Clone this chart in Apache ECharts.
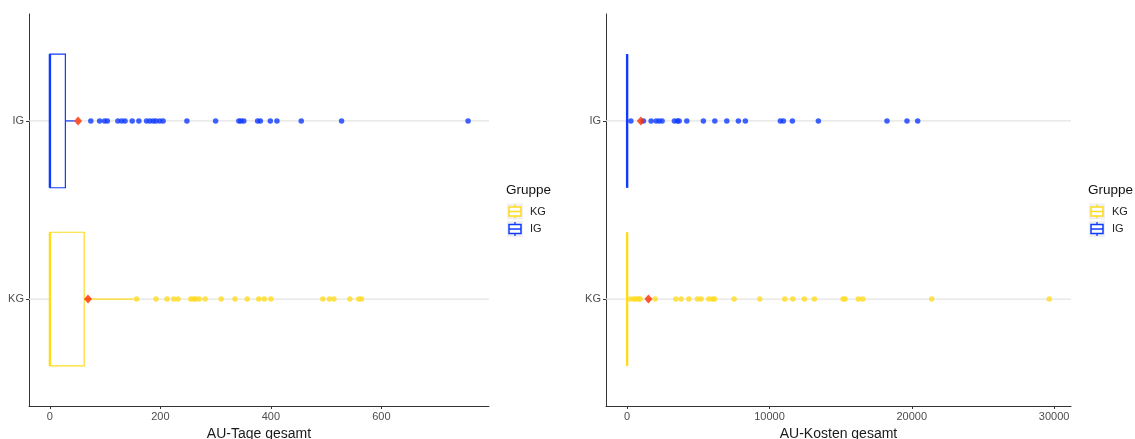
<!DOCTYPE html>
<html>
<head>
<meta charset="utf-8">
<script src="https://cdn.jsdelivr.net/npm/echarts@6/dist/echarts.min.js"></script>
<style>
  html, body { margin: 0; padding: 0; background: #fff; }
  #chart { width: 1135px; height: 439px; }
</style>
</head>
<body>
<div id="chart"></div>
<script>
// groups on the y axis: KG = 1 (bottom), IG = 2 (top)
const groups = ['KG', 'IG'];

// AU-Tage gesamt (visible points only, the rest sits under the box)
const tageIG = [74, 90, 99, 104, 123, 130, 136, 149, 161, 175, 181, 187, 192, 199, 205,
  248, 300, 342, 346, 351, 376, 381, 399, 411, 455, 528, 757];
const tageKG = [157, 192, 212, 224, 232, 255, 260, 264, 270, 281, 310, 335, 357, 378, 388,
  400, 494, 506, 514, 543, 559, 564];
// box: q1, median, q3, lower whisker, upper whisker
const tageBoxIG = [0, 0, 28, 0, 45];
const tageBoxKG = [0, 0, 62, 0, 150];
const tageMean = { IG: 51, KG: 69 };

// AU-Kosten gesamt
const kostenIG = [260, 1145, 1685, 2037, 2247, 2458, 3322, 3532, 3652, 4192, 5358, 6159,
  7001, 7816, 8308, 10766, 10976, 11608, 13434, 18258, 19663, 20413];
const kostenKG = [211, 442, 611, 794, 913, 1966, 3420, 3792, 4333, 4937, 5197, 5737, 5990,
  6131, 7514, 9319, 11075, 11636, 12451, 13153, 15169, 15309, 16243, 16552, 21397, 29656];
const kostenBoxIG = [0, 0, 0, 0, 0];
const kostenBoxKG = [0, 0, 0, 0, 0];
const kostenMean = { IG: 960, KG: 1496 };

// x axis ticks
const tageTicks = [0, 200, 400, 600];
const kostenTicks = [0, 10000, 20000, 30000];

const YELLOW = '#FFDB1F';
const BLUE = '#0F3BFF';
const RED = '#FF2A00';
const FONT = 'Liberation Sans';

function renderBox(params, api) {
  const y = api.value(5);
  const q1 = api.coord([api.value(0), y]);
  const med = api.coord([api.value(1), y]);
  const q3 = api.coord([api.value(2), y]);
  const lo = api.coord([api.value(3), y]);
  const hi = api.coord([api.value(4), y]);
  const h = api.size([0, 0.75])[1];
  const color = api.visual('color');
  return {
    type: 'group',
    children: [
      { type: 'line', shape: { x1: lo[0], y1: q1[1], x2: q1[0], y2: q1[1] },
        style: { stroke: color, lineWidth: 1.2 } },
      { type: 'line', shape: { x1: q3[0], y1: q1[1], x2: hi[0], y2: q1[1] },
        style: { stroke: color, lineWidth: 1.2 } },
      { type: 'rect', shape: { x: q1[0], y: q1[1] - h / 2, width: q3[0] - q1[0], height: h },
        style: { fill: '#fff', stroke: color, lineWidth: 1.2 } },
      { type: 'line', shape: { x1: med[0], y1: q1[1] - h / 2, x2: med[0], y2: q1[1] + h / 2 },
        style: { stroke: color, lineWidth: 2.4 } }
    ]
  };
}

function renderGuide(params, api) {
  const p = api.coord([0, api.value(1)]);
  const cs = params.coordSys;
  return {
    type: 'line',
    shape: { x1: cs.x, y1: p[1], x2: cs.x + cs.width, y2: p[1] },
    style: { stroke: '#E3E3E3', lineWidth: 1.3 }
  };
}

function pts(arr, y) { return arr.map(v => [v, y]); }

function panelSeries(idx, ig, kg, boxIG, boxKG, mean) {
  return [
    { type: 'custom', xAxisIndex: idx, yAxisIndex: idx, z: 1, silent: true,
      renderItem: renderGuide, data: [[0, 1], [0, 2]] },
    { type: 'custom', xAxisIndex: idx, yAxisIndex: idx, z: 2, silent: true,
      renderItem: renderBox, itemStyle: { color: YELLOW },
      encode: { x: [0, 1, 2, 3, 4], y: 5 }, data: [boxKG.concat([1])] },
    { type: 'custom', xAxisIndex: idx, yAxisIndex: idx, z: 2, silent: true,
      renderItem: renderBox, itemStyle: { color: BLUE },
      encode: { x: [0, 1, 2, 3, 4], y: 5 }, data: [boxIG.concat([2])] },
    { type: 'scatter', xAxisIndex: idx, yAxisIndex: idx, z: 3, symbolSize: 5.5,
      itemStyle: { color: YELLOW }, data: pts(kg, 1) },
    { type: 'scatter', xAxisIndex: idx, yAxisIndex: idx, z: 3, symbolSize: 5.5,
      itemStyle: { color: BLUE }, data: pts(ig, 2) },
    { type: 'scatter', xAxisIndex: idx, yAxisIndex: idx, z: 4, symbol: 'diamond',
      symbolSize: [8, 9], itemStyle: { color: RED },
      data: [[mean.KG, 1], [mean.IG, 2]] }
  ];
}

function xAxisCfg(idx, name, min, max, ticks) {
  return {
    type: 'value', gridIndex: idx, min: min, max: max,
    name: name, nameLocation: 'middle', nameGap: 18,
    nameTextStyle: { fontFamily: FONT, fontSize: 14, color: '#1a1a1a' },
    axisLine: { show: true, onZero: false, lineStyle: { color: '#333', width: 1 } },
    axisTick: { show: true, length: 3, customValues: ticks, lineStyle: { color: '#333' } },
    axisLabel: { customValues: ticks, margin: 5, formatter: v => String(v),
      fontFamily: FONT, fontSize: 11, color: '#4D4D4D' },
    splitLine: { show: false }
  };
}

function yAxisCfg(idx) {
  return {
    type: 'value', gridIndex: idx, min: 0.4, max: 2.6,
    axisLine: { show: true, onZero: false, lineStyle: { color: '#333', width: 1 } },
    axisTick: { show: true, length: 3, customValues: [1, 2], lineStyle: { color: '#333' } },
    axisLabel: { customValues: [1, 2], margin: 5, formatter: v => groups[v - 1],
      fontFamily: FONT, fontSize: 11, color: '#4D4D4D' },
    splitLine: { show: false }
  };
}

function legendKey(x, y, color) {
  return [
    { type: 'rect', shape: { x: x, y: y - 8, width: 16, height: 16 }, style: { fill: '#F0F0F0' } },
    { type: 'line', shape: { x1: x + 8, y1: y - 7, x2: x + 8, y2: y + 7 }, style: { stroke: color, lineWidth: 1.3 } },
    { type: 'rect', shape: { x: x + 2, y: y - 4.5, width: 12, height: 9 }, style: { fill: '#fff', stroke: color, lineWidth: 1.5 } },
    { type: 'line', shape: { x1: x + 2, y1: y, x2: x + 14, y2: y }, style: { stroke: color, lineWidth: 1.5 } }
  ];
}

function legendGroup(x) {
  return [
    { type: 'text', x: x, y: 190, style: { text: 'Gruppe', fontFamily: FONT, fontSize: 13.5, fill: '#111', verticalAlign: 'middle' } },
    ...legendKey(x + 1, 211.5, YELLOW),
    { type: 'text', x: x + 24, y: 211.5, style: { text: 'KG', fontFamily: FONT, fontSize: 11, fill: '#222', verticalAlign: 'middle' } },
    ...legendKey(x + 1, 229, BLUE),
    { type: 'text', x: x + 24, y: 229, style: { text: 'IG', fontFamily: FONT, fontSize: 11, fill: '#222', verticalAlign: 'middle' } }
  ];
}

const chart = echarts.init(document.getElementById('chart'));
chart.setOption({
  animation: false,
  backgroundColor: '#fff',
  grid: [
    { left: 29, right: 646, top: 14, bottom: 33, outerBoundsMode: 'none' },
    { left: 606, right: 64, top: 14, bottom: 33, outerBoundsMode: 'none' }
  ],
  xAxis: [
    xAxisCfg(0, 'AU-Tage gesamt', -37.85, 794.85, tageTicks),
    xAxisCfg(1, 'AU-Kosten gesamt', -1485, 31185, kostenTicks)
  ],
  yAxis: [yAxisCfg(0), yAxisCfg(1)],
  series: panelSeries(0, tageIG, tageKG, tageBoxIG, tageBoxKG, tageMean)
    .concat(panelSeries(1, kostenIG, kostenKG, kostenBoxIG, kostenBoxKG, kostenMean)),
  graphic: legendGroup(506).concat(legendGroup(1088))
});
</script>
</body>
</html>
